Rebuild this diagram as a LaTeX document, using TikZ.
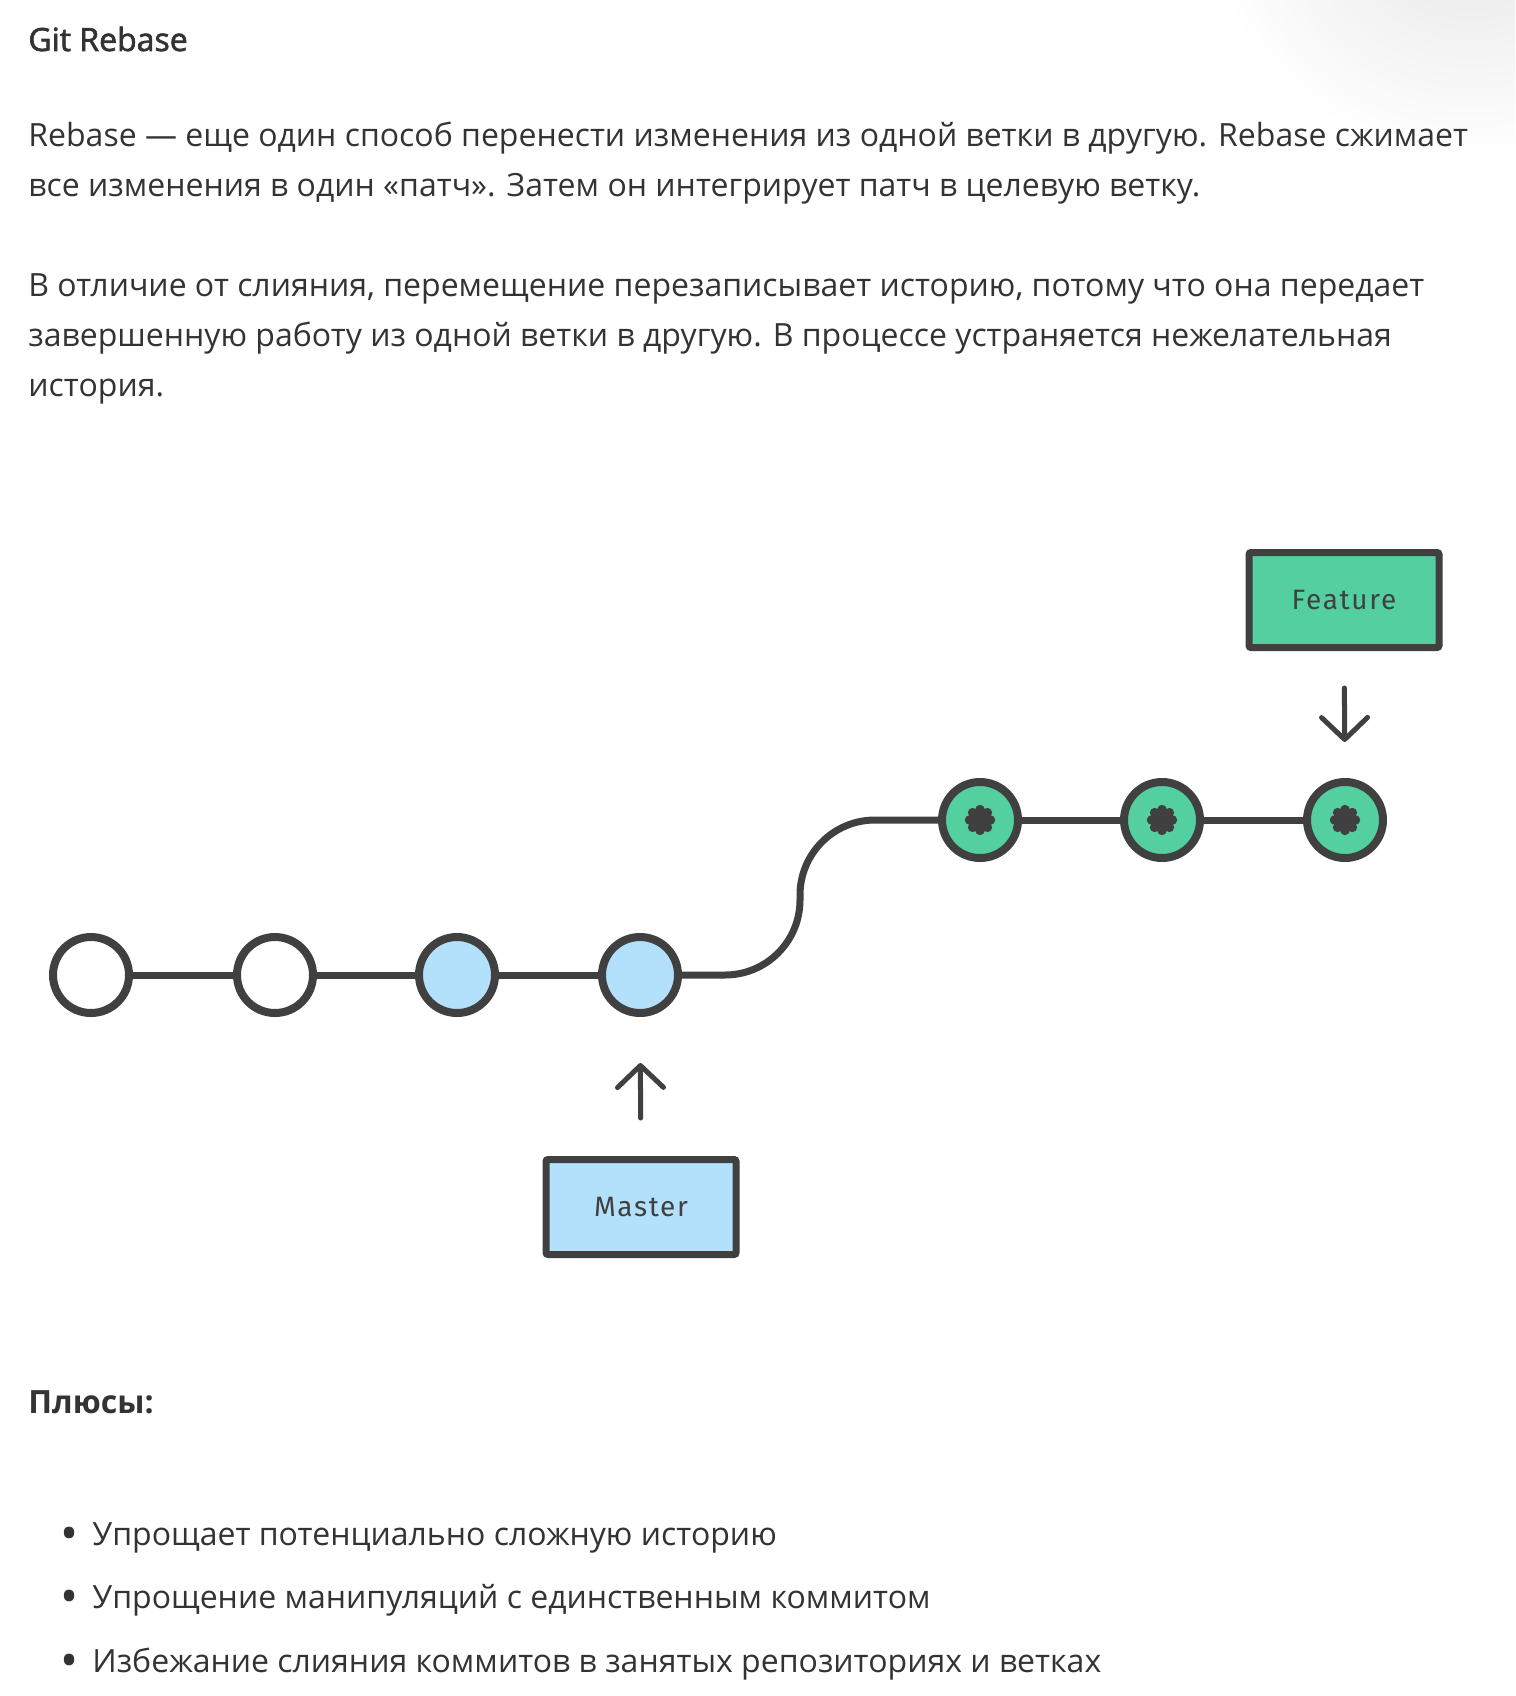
\documentclass[tikz,border=0pt]{standalone}
\usepackage{fontspec}
\usepackage{graphicx}
\setmainfont{Open Sans}
\newfontfamily\labelfont{Fira Sans}[LetterSpace=6]
\newfontfamily\titlefont{Open Sans}[FakeBold=2]
\usetikzlibrary{arrows.meta}
\definecolor{ink}{HTML}{333333}
\definecolor{linegray}{HTML}{404040}
\definecolor{featgreen}{HTML}{54CFA0}
\definecolor{mastblue}{HTML}{B3E1FB}
\newcommand{\bulletmark}{\llap{\raisebox{-2.6pt}{\scalebox{1.5}{•}}\hskip 7pt}}

\begin{document}
\begin{tikzpicture}[x=0.5pt, y=-0.5pt, >=Straight Barb,
  commit/.style={draw=linegray, line width=4pt, circle, minimum size=38pt, inner sep=0pt},
  oldcommit/.style={commit, fill=white},
  mastcommit/.style={commit, fill=mastblue},
  featcommit/.style={commit, fill=featgreen, path picture={
    \fill[linegray] (path picture bounding box.center) circle (3.9pt)
      \foreach \a in {0,45,...,315} {([shift={(\a:5.2pt)}]path picture bounding box.center) circle (2.4pt)};}},
  branch/.style={draw=linegray, line width=3.5pt, rounded corners=1pt, minimum width=95pt,
    minimum height=47.5pt, inner sep=0pt, text=linegray, font=\labelfont\fontsize{14}{16}\selectfont},
  link/.style={draw=linegray, line width=3.5pt},
  pointer/.style={draw=linegray, line width=2.5pt, line cap=round,
    -{Straight Barb[length=11pt, width=23pt, line cap=round, line join=round]}},
  body/.style={anchor=base west, inner sep=0pt, text=ink, font=\fontsize{16}{20}\selectfont}]

\useasboundingbox[fill=white] (0,0) rectangle (1515,1696);
\begin{scope}
\clip (0,0) rectangle (1515,1696);
\shade[inner color=black!11, outer color=white] (1470,-110) circle (135pt);
\end{scope}

% text above
\node(Title)[body, font=\titlefont\fontsize{16}{20}\selectfont] at (28,51) {Git Rebase};
\node(P1a)[body] at (28,147) {Rebase — еще один способ перенести изменения из одной ветки в другую. Rebase сжимает};
\node(P1b)[body] at (28,197) {все изменения в один «патч». Затем он интегрирует патч в целевую ветку.};
\node(P2a)[body] at (28,296) {В отличие от слияния, перемещение перезаписывает историю, потому что она передает};
\node(P2b)[body] at (28,346) {завершенную работу из одной ветки в другую. В процессе устраняется нежелательная};
\node(P2c)[body] at (28,396) {история.};

% commits
\node(C1)[oldcommit] at (91,975) {};
\node(C2)[oldcommit] at (275,975) {};
\node(C3)[mastcommit] at (457,975) {};
\node(C4)[mastcommit] at (640,975) {};
\node(F1)[featcommit] at (980,820) {};
\node(F2)[featcommit] at (1162,820) {};
\node(F3)[featcommit] at (1345,820) {};
\coordinate(Bend) at (800,900);

\draw[link] (C1) -- (C2);
\draw[link] (C2) -- (C3);
\draw[link] (C3) -- (C4);
\draw[link, rounded corners=37.5pt] (C4.east) -- (C4.east -| Bend) -- (Bend |- F1.west) -- (F1.west);
\draw[link] (F1) -- (F2);
\draw[link] (F2) -- (F3);

% branch labels
\node(Feature)[branch, fill=featgreen] at (1344,600) {Feature};
\node(Master)[branch, fill=mastblue] at (641,1207) {Master};
\draw[pointer, shorten <=18.5pt, shorten >=18pt] (Feature) -- (F3);
\draw[pointer, shorten <=19pt, shorten >=23pt] (Master) -- (C4);

% text below
\node(Plus)[body, font=\fontsize{16}{20}\selectfont\bfseries] at (28,1413) {Плюсы:};
\node(B1)[body] at (92,1545) {\bulletmark Упрощает потенциально сложную историю};
\node(B2)[body] at (92,1608) {\bulletmark Упрощение манипуляций с единственным коммитом};
\node(B3)[body] at (92,1672) {\bulletmark Избежание слияния коммитов в занятых репозиториях и ветках};
\end{tikzpicture}
\end{document}
